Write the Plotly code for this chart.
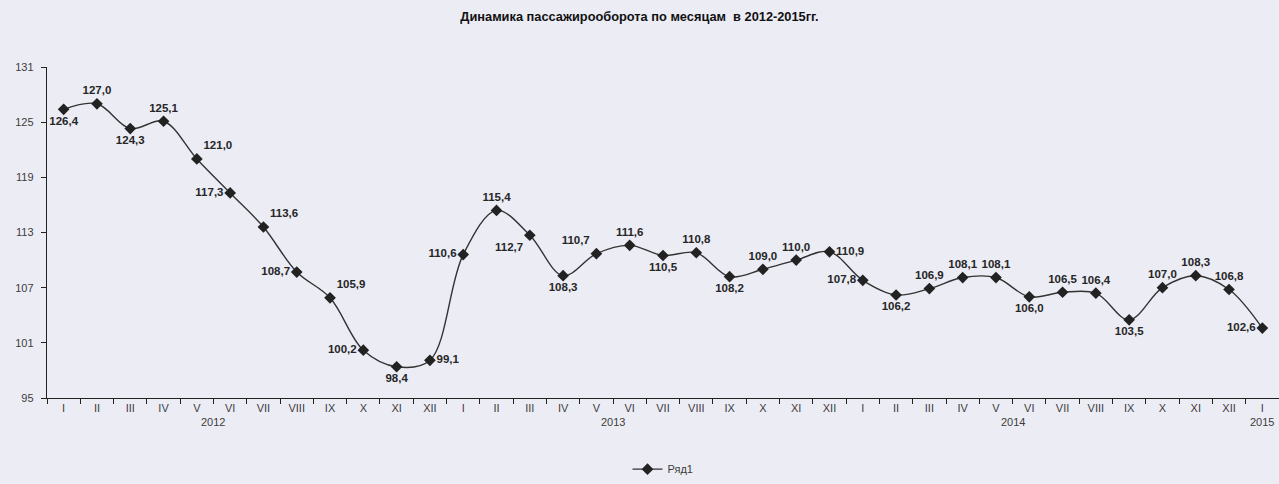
import plotly.graph_objects as go

# ---- data ----
months = ["I", "II", "III", "IV", "V", "VI", "VII", "VIII", "IX", "X", "XI", "XII"]
years = ["2012", "2013", "2014", "2015"]
month_labels = months * 3 + ["I"]
values = [126.4, 127.0, 124.3, 125.1, 121.0, 117.3, 113.6, 108.7, 105.9, 100.2, 98.4, 99.1,
          110.6, 115.4, 112.7, 108.3, 110.7, 111.6, 110.5, 110.8, 108.2, 109.0, 110.0, 110.9,
          107.8, 106.2, 106.9, 108.1, 108.1, 106.0, 106.5, 106.4, 103.5, 107.0, 108.3, 106.8,
          102.6]
series_name = "Ряд1"
title_text = "Динамика пассажирооборота по месяцам  в 2012-2015гг."
y_ticks = [95, 101, 107, 113, 119, 125, 131]

# label placement (style)
label_pos = ["bottom center", "top center", "bottom center", "top center", "top right", "middle left",
             "top right", "middle left", "top right", "middle left", "bottom center", "middle right",
             "middle left", "top center", "bottom left", "bottom center", "top left", "top center",
             "bottom center", "top center", "bottom center", "top center", "top center", "middle right",
             "middle left", "bottom center", "top center", "top center", "top center", "bottom center",
             "top center", "top center", "bottom center", "top center", "top center", "top center",
             "middle left"]

x_idx = list(range(len(values)))
texts = [f"{v:.1f}".replace(".", ",") for v in values]

FONT = "Liberation Sans, Arial, sans-serif"
INK = "#262626"
TICK_INK = "#3c3c3c"
bg = "#ececf5"

fig = go.Figure()
fig.add_trace(go.Scatter(
    x=x_idx, y=values, name=series_name,
    mode="lines+markers+text",
    line=dict(color="#333333", width=1.4, shape="spline", smoothing=1.0),
    marker=dict(symbol="diamond", size=9, color="#222222"),
    text=texts, textposition=label_pos,
    textfont=dict(family=FONT, size=11.5, color=INK, weight="bold"),
    cliponaxis=False,
))

# year group labels (Excel multi-level category axis)
year_pos = [4.5, 16.5, 28.5, 36]
for yr, xp in zip(years, year_pos):
    fig.add_annotation(x=xp, y=0, xref="x", yref="paper", text=yr, showarrow=False,
                       yanchor="top", yshift=-16, font=dict(family=FONT, size=11, color=TICK_INK))

fig.update_layout(
    width=1279, height=484,
    paper_bgcolor=bg, plot_bgcolor=bg,
    margin=dict(l=47, r=0, t=67, b=84),
    title=dict(text=f"<b>{title_text}</b>", x=0.5, xanchor="center", y=1 - 17 / 484, yanchor="middle",
               font=dict(family=FONT, size=12.8, color="#111")),
    showlegend=True,
    legend=dict(orientation="h", x=0.5, xanchor="center", y=-0.215, yanchor="middle",
                font=dict(family=FONT, size=11, color=TICK_INK), bgcolor="rgba(0,0,0,0)"),
    xaxis=dict(range=[-0.5, len(values) - 0.5], tickmode="array", tickvals=x_idx, ticktext=month_labels,
               ticks="", showgrid=False, zeroline=False, showline=True, linecolor="#222", linewidth=1.4,
               tickfont=dict(family=FONT, size=11, color=TICK_INK),
               minor=dict(ticks="outside", tick0=-0.5, dtick=1, ticklen=5, tickcolor="#222", showgrid=False)),
    yaxis=dict(range=[95, 131], tickmode="array", tickvals=y_ticks, ticks="outside", ticklen=5,
               tickcolor="#222", showgrid=False, zeroline=False, showline=True, linecolor="#222",
               linewidth=1.4, ticklabelstandoff=5, tickfont=dict(family=FONT, size=11, color=TICK_INK)),
)

fig.write_html("out.html", config={"displayModeBar": False},
               post_script="document.body.style.margin='0';document.body.style.background='%s';" % bg)
